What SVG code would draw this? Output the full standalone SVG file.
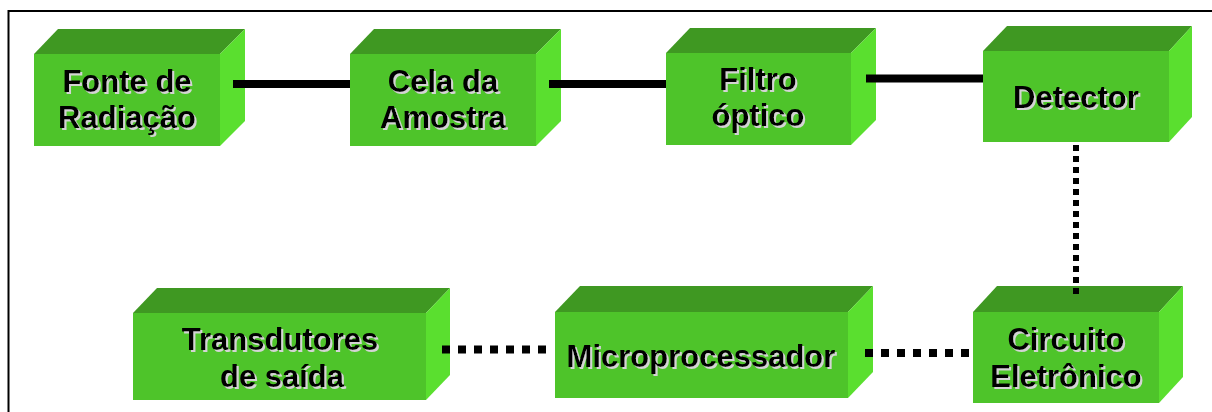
<svg xmlns="http://www.w3.org/2000/svg" width="1212" height="412" viewBox="0 0 1212 412">
<style>
.front{fill:#4EC42A}
.top{fill:#3F9822}
.side{fill:#5ADF2F}
.lbl{font-family:"Liberation Sans",Arial,sans-serif;font-weight:bold;font-size:31px;fill:#000;text-anchor:middle;filter:url(#sh)}
.solid{stroke:#000;stroke-width:8;fill:none}
.dotH{stroke:#000;stroke-width:8;stroke-dasharray:8 8;fill:none}
.dotV{stroke:#000;stroke-width:6;stroke-dasharray:6 5;fill:none}
</style>
<defs>
<filter id="sh" x="-10%" y="-20%" width="120%" height="140%">
<feDropShadow dx="2" dy="2" stdDeviation="0.3" flood-color="#d4d4d4" flood-opacity="1"/>
</filter>
</defs>
<rect width="1212" height="412" fill="#fff"/>
<path d="M8.5,412 V11 H1212" stroke="#000" stroke-width="2" fill="none"/>

<g id="fonte">
<polygon class="top" points="34,54 58,29 245,29 220,54"/>
<polygon class="side" points="220,54 245,29 245,121 220,146"/>
<rect class="front" x="34" y="54" width="186" height="92"/>
<text class="lbl" x="127" y="92">Fonte de</text>
<text class="lbl" x="127" y="128">Radiação</text>
</g>

<g id="cela">
<polygon class="top" points="350,54 374,29 561,29 536,54"/>
<polygon class="side" points="536,54 561,29 561,121 536,146"/>
<rect class="front" x="350" y="54" width="186" height="92"/>
<text class="lbl" x="443" y="92">Cela da</text>
<text class="lbl" x="443" y="128">Amostra</text>
</g>

<g id="filtro">
<polygon class="top" points="666,53 690,28 876,28 851,53"/>
<polygon class="side" points="851,53 876,28 876,120 851,145"/>
<rect class="front" x="666" y="53" width="185" height="92"/>
<text class="lbl" x="758" y="90">Filtro</text>
<text class="lbl" x="758" y="126">óptico</text>
</g>

<g id="detector">
<polygon class="top" points="983,51 1007,26 1192,26 1169,51"/>
<polygon class="side" points="1169,51 1192,26 1192,117 1169,142"/>
<rect class="front" x="983" y="51" width="186" height="91"/>
<text class="lbl" x="1076" y="108">Detector</text>
</g>

<g id="circuito">
<polygon class="top" points="973,312 997,286 1183,286 1159,312"/>
<polygon class="side" points="1159,312 1183,286 1183,377 1159,403"/>
<rect class="front" x="973" y="312" width="186" height="91"/>
<text class="lbl" x="1066" y="350">Circuito</text>
<text class="lbl" x="1066" y="387">Eletrônico</text>
</g>

<g id="micro">
<polygon class="top" points="555,312 580,286 873,286 848,312"/>
<polygon class="side" points="848,312 873,286 873,372 848,398"/>
<rect class="front" x="555" y="312" width="293" height="86"/>
<text class="lbl" x="701" y="367">Microprocessador</text>
</g>

<g id="transdutores">
<polygon class="top" points="133,313 157,288 450,288 426,313"/>
<polygon class="side" points="426,313 450,288 450,375 426,400"/>
<rect class="front" x="133" y="313" width="293" height="87"/>
<text class="lbl" x="280" y="350">Transdutores</text>
<text class="lbl" x="282" y="387">de saída</text>
</g>

<g id="connectors">
<line class="solid" x1="233" y1="84" x2="350" y2="84"/>
<line class="solid" x1="549" y1="84" x2="666" y2="84"/>
<line class="solid" x1="866" y1="78.5" x2="983" y2="78.5"/>
<line class="dotV" x1="1076" y1="145" x2="1076" y2="294"/>
<line class="dotH" x1="442" y1="349.5" x2="554" y2="349.5"/>
<line class="dotH" x1="969" y1="353" x2="857" y2="353"/>
</g>
</svg>
